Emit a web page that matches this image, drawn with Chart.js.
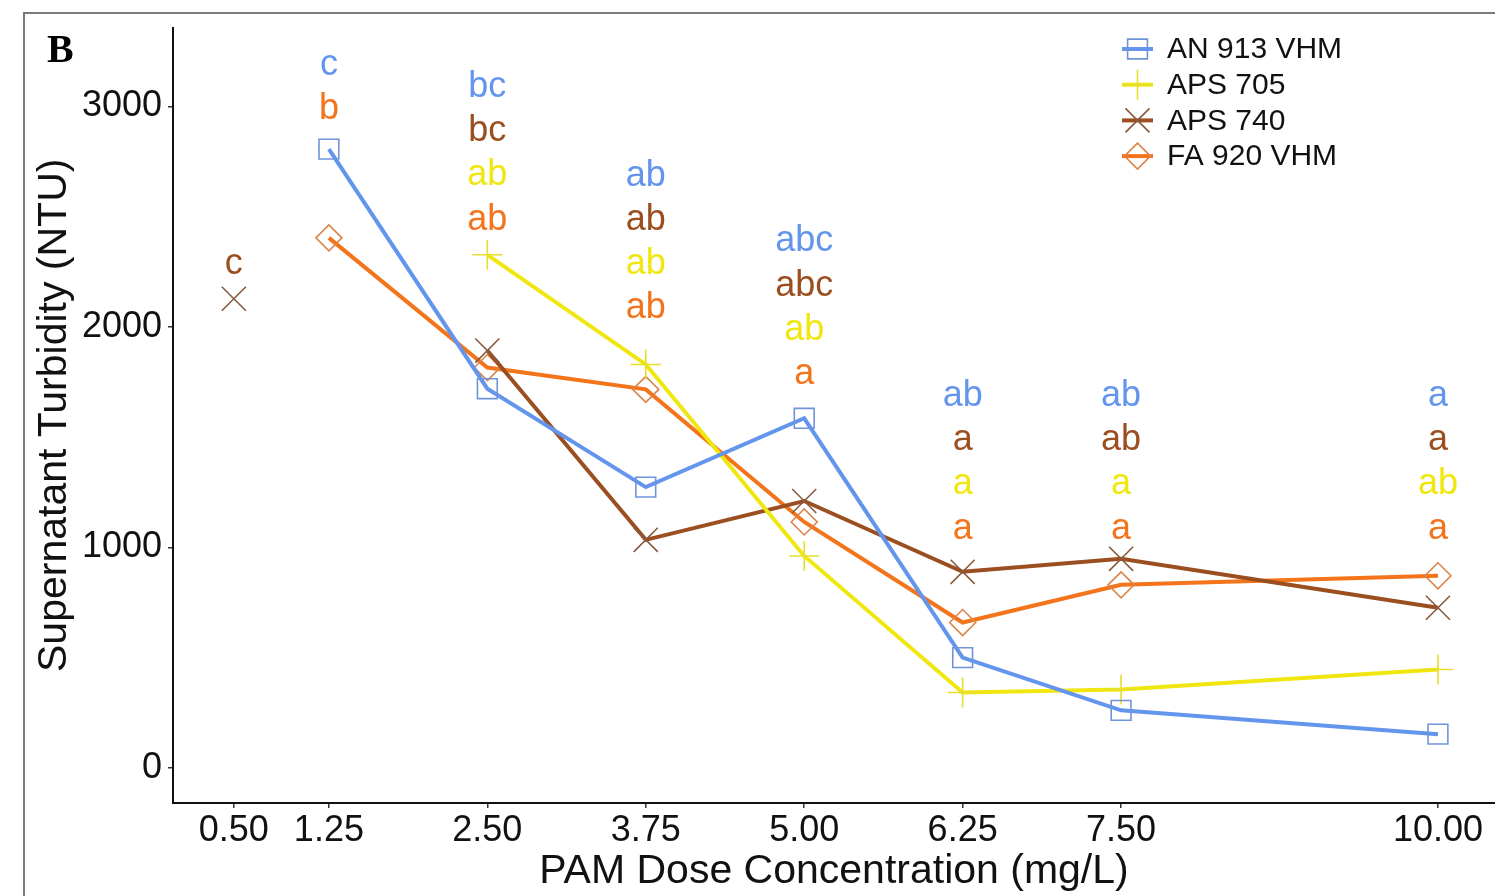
<!DOCTYPE html>
<html>
<head>
<meta charset="utf-8">
<script src="https://cdn.jsdelivr.net/npm/chart.js@4/dist/chart.umd.min.js"></script>
<style>
  html, body { margin: 0; padding: 0; background: #fff; }
  #wrap { width: 1495px; height: 896px; }
</style>
</head>
<body>
<div id="wrap"><canvas id="turbidityChart" width="1495" height="896"></canvas></div>
<script>
const doses = [0.5, 1.25, 2.5, 3.75, 5, 6.25, 7.5, 10];
const yTicks = [0, 1000, 2000, 3000];
const seriesNames = ['AN 913 VHM', 'APS 705', 'APS 740', 'FA 920 VHM'];

const an913 = [null, 2806, 1720, 1274, 1586, 501, 262, 154];
const aps705 = [null, null, 2327, 1830, 962, 343, 357, 447];
const aps740 = [2128, null, 1893, 1035, 1211, 890, 949, 727];
const fa920 = [null, 2404, 1816, 1717, 1116, 660, 831, 872];

// significance letters for each dose (null = not shown)
const an913Letters = [null, 'c', 'bc', 'ab', 'abc', 'ab', 'ab', 'a'];
const aps705Letters = [null, null, 'ab', 'ab', 'ab', 'a', 'a', 'ab'];
const aps740Letters = ['c', null, 'bc', 'ab', 'abc', 'a', 'ab', 'a'];
const fa920Letters = [null, 'b', 'ab', 'ab', 'a', 'a', 'a', 'a'];
// turbidity level where the top letter of each column sits
const letterTop = [2284, 3187, 3088, 2686, 2388, 1688, 1688, 1688];

const family = '"Liberation Sans", Arial, Helvetica, sans-serif';
const lineColors = ['#6495ED', '#EFE70F', '#9B4F20', '#F3741A'];
const markerColors = ['#6F94DA', '#E6DE2E', '#8A5A3E', '#DA844A'];
const markerStyles = ['rect', 'cross', 'crossRot', 'rectRot'];
const markerRadius = [14, 15, 17, 13];

const seriesValues = [an913, aps705, aps740, fa920];
const toPoints = arr => doses.map((d, i) => ({ x: d, y: arr[i] }));

const framePlugin = {
    id: 'frame',
    beforeDraw(chart) {
        const ctx = chart.ctx;
        ctx.save();
        ctx.strokeStyle = '#7a7a7a';
        ctx.lineWidth = 2;
        ctx.strokeRect(24, 13, 2000, 2000);
        ctx.restore();
    }
};

const lettersPlugin = {
    id: 'letters',
    afterDatasetsDraw(chart) {
        const { ctx, scales: { x, y } } = chart;
        // stacking order top to bottom: blue, brown, yellow, orange
        const stack = [
            [an913Letters, lineColors[0]],
            [aps740Letters, lineColors[2]],
            [aps705Letters, lineColors[1]],
            [fa920Letters, lineColors[3]]
        ];
        ctx.save();
        ctx.font = '36px ' + family;
        ctx.textAlign = 'center';
        ctx.textBaseline = 'middle';
        doses.forEach((d, i) => {
            const px = x.getPixelForValue(d);
            let py = y.getPixelForValue(letterTop[i]);
            stack.forEach(([letters, col]) => {
                if (!letters[i]) return;
                ctx.fillStyle = col;
                ctx.fillText(letters[i], px, py);
                py += 44.3;
            });
        });
        ctx.restore();
    }
};

const legendPlugin = {
    id: 'insideLegend',
    afterDraw(chart) {
        const ctx = chart.ctx;
        ctx.save();
        ctx.font = '30px ' + family;
        ctx.textBaseline = 'middle';
        ctx.textAlign = 'left';
        seriesNames.forEach((name, i) => {
            const cy = 49 + i * 35.7;
            ctx.strokeStyle = lineColors[i];
            ctx.lineWidth = 4;
            ctx.beginPath();
            ctx.moveTo(1122, cy);
            ctx.lineTo(1153, cy);
            ctx.stroke();
            ctx.strokeStyle = markerColors[i];
            ctx.fillStyle = 'rgba(0,0,0,0)';
            ctx.lineWidth = 1.6;
            Chart.helpers.drawPoint(ctx, {
                pointStyle: markerStyles[i],
                radius: markerRadius[i],
                rotation: 0,
                borderWidth: 1.6
            }, 1137.5, cy);
            ctx.fillStyle = '#111';
            ctx.fillText(name, 1167, cy + 1);
        });
        // panel letter
        ctx.font = 'bold 40px "Liberation Serif", "Times New Roman", serif';
        ctx.fillStyle = '#000';
        ctx.fillText('B', 47, 52);
        ctx.restore();
    }
};

const ctx = document.getElementById('turbidityChart').getContext('2d');
new Chart(ctx, {
    type: 'line',
    data: {
        datasets: seriesNames.map((name, i) => ({
            label: name,
            data: toPoints(seriesValues[i]),
            borderColor: lineColors[i],
            borderWidth: 4,
            tension: 0,
            spanGaps: false,
            fill: false,
            pointStyle: markerStyles[i],
            pointRadius: markerRadius[i],
            pointHoverRadius: markerRadius[i],
            pointBorderColor: markerColors[i],
            pointBackgroundColor: 'rgba(0,0,0,0)',
            pointBorderWidth: 1.6
        }))
    },
    options: {
        responsive: false,
        animation: false,
        layout: { autoPadding: false, padding: { left: 24, top: 25, right: 0, bottom: 0 } },
        plugins: {
            legend: { display: false },
            tooltip: { enabled: false }
        },
        scales: {
            x: {
                type: 'linear',
                min: 0.02,
                max: 10.45,
                afterBuildTicks: s => { s.ticks = doses.map(v => ({ value: v })); },
                afterFit: s => {
                    s.height = 93;
                    s.paddingLeft = 0;
                    s.paddingRight = 0;
                },
                grid: { drawOnChartArea: false, drawTicks: true, tickLength: 5, color: '#333', lineWidth: 1.5 },
                border: { display: true, color: '#111', width: 2 },
                ticks: {
                    color: '#111',
                    font: { size: 36, family },
                    padding: 1,
                    maxRotation: 0,
                    autoSkip: false,
                    callback: v => Number(v).toFixed(2)
                },
                title: {
                    display: true,
                    text: 'PAM Dose Concentration (mg/L)',
                    color: '#111',
                    font: { size: 41, family },
                    padding: { top: 0, bottom: 0 }
                }
            },
            y: {
                min: -158,
                max: 3357,
                afterBuildTicks: s => { s.ticks = yTicks.map(v => ({ value: v })); },
                afterFit: s => { s.width = 149; },
                grid: { drawOnChartArea: false, drawTicks: true, tickLength: 5, color: '#333', lineWidth: 1.5 },
                border: { display: true, color: '#111', width: 2 },
                ticks: {
                    color: '#111',
                    font: { size: 36, family },
                    padding: 6,
                    callback: v => String(v)
                },
                title: {
                    display: true,
                    text: 'Supernatant Turbidity (NTU)',
                    color: '#111',
                    font: { size: 41, family },
                    padding: { top: 6, bottom: 0 }
                }
            }
        }
    },
    plugins: [framePlugin, lettersPlugin, legendPlugin]
});
</script>
</body>
</html>
